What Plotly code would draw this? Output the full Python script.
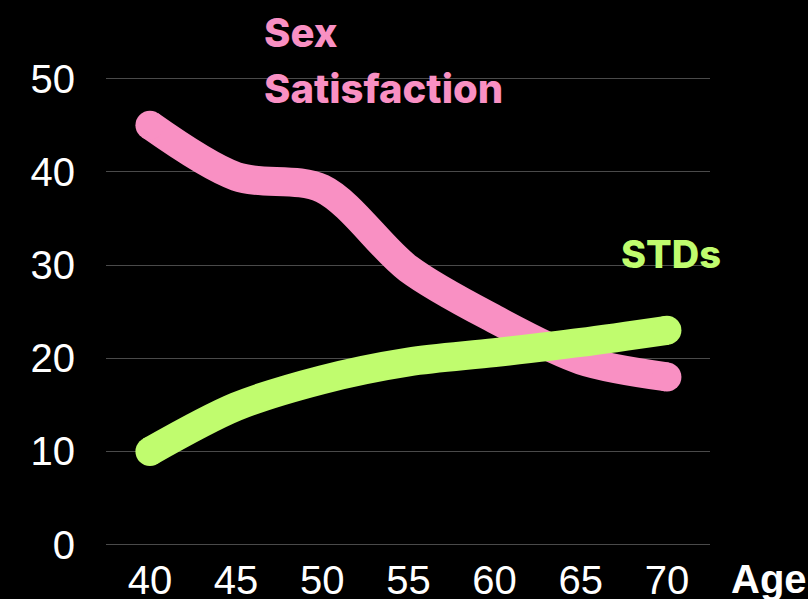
import plotly.graph_objects as go

ages = [40, 45, 50, 55, 60, 65, 70]
sex_satisfaction = [45, 39.5, 38.2, 29.6, 24.2, 19.8, 18]
stds = [10, 14.8, 17.7, 19.6, 20.6, 21.7, 23]
y_ticks = [0, 10, 20, 30, 40, 50]

PINK = "#f990c3"
GREEN = "#c0fc6e"
LW = 29

fig = go.Figure()
for series, col in [(sex_satisfaction, PINK), (stds, GREEN)]:
    fig.add_trace(go.Scatter(x=ages, y=series, mode="lines",
                             line=dict(color=col, width=LW, shape="spline", smoothing=0.9),
                             hoverinfo="skip"))
    # round caps at the line ends
    fig.add_trace(go.Scatter(x=[ages[0], ages[-1]], y=[series[0], series[-1]], mode="markers",
                             marker=dict(color=col, size=LW, line=dict(width=0)),
                             hoverinfo="skip"))

W, H = 808, 599
ML, MR, MT, MB = 106, 98, 32, 52
PW, PH = W - ML - MR, H - MT - MB

def px(xp):
    return (xp - ML) / PW

def py(yp):
    return (H - MB - yp) / PH

fig.update_layout(
    width=W, height=H,
    paper_bgcolor="black", plot_bgcolor="black",
    margin=dict(l=ML, r=MR, t=MT, b=MB),
    showlegend=False,
    font=dict(family="Liberation Sans, Arial", color="white", size=40),
    xaxis=dict(range=[37.45, 72.5], tickvals=ages, showgrid=False, zeroline=False,
               showline=False, ticks="", ticklabelstandoff=6, automargin=False,
               tickfont=dict(size=40, color="white")),
    yaxis=dict(range=[-0.25, 55], tickvals=y_ticks, showgrid=True, gridcolor="#4a4a4a",
               gridwidth=1, zeroline=False, showline=False, ticks="", automargin=False,
               ticklabelstandoff=30, tickfont=dict(size=40, color="white")),
)

TF = dict(family="Inter", weight=800)
fig.add_annotation(xref="paper", yref="paper", x=px(262), y=py(33),
                   text="Sex", showarrow=False, xanchor="left", yanchor="middle",
                   font=dict(**TF, size=40, color=PINK))
fig.add_annotation(xref="paper", yref="paper", x=px(262), y=py(88),
                   text="Satisfaction", showarrow=False, xanchor="left", yanchor="middle",
                   font=dict(**TF, size=40, color=PINK))
fig.add_annotation(xref="paper", yref="paper", x=px(619), y=py(254),
                   text="STDs", showarrow=False, xanchor="left", yanchor="middle",
                   font=dict(**TF, size=38, color=GREEN))
fig.add_annotation(xref="paper", yref="paper", x=px(729), y=py(579),
                   text="<b>Age</b>", showarrow=False, xanchor="left", yanchor="middle",
                   font=dict(family="Liberation Sans", size=40, color="white"))

fig.write_html("out.html", config={"displayModeBar": False},
               post_script="document.body.style.margin='0';")
